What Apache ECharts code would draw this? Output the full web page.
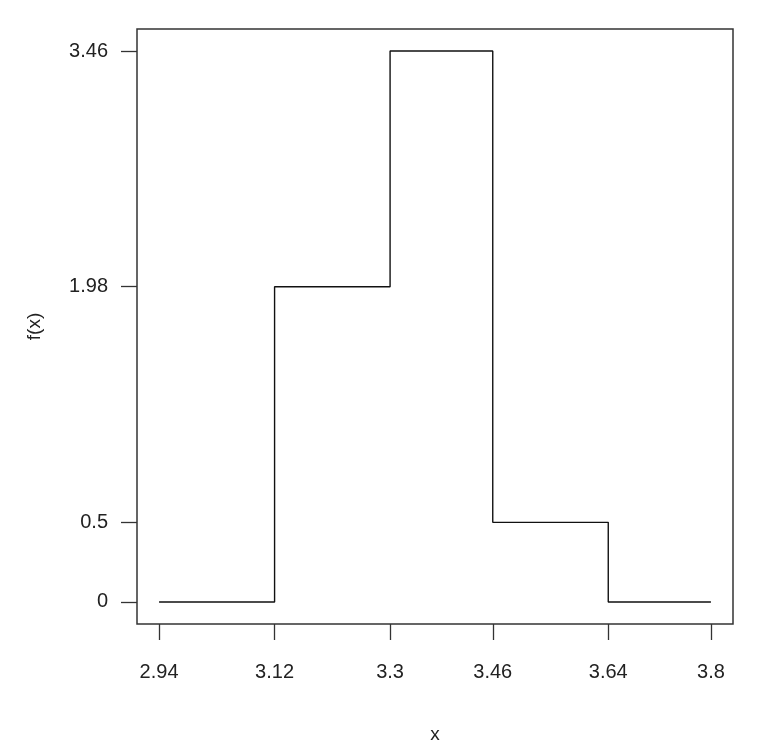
<!DOCTYPE html>
<html>
<head>
<meta charset="utf-8">
<script src="https://cdn.jsdelivr.net/npm/echarts@6/dist/echarts.min.js"></script>
<style>
html,body{margin:0;padding:0;background:#fff;}
#chart{width:762px;height:750px;}
</style>
</head>
<body>
<div id="chart"></div>
<script>
// Data
const xBreaks = [2.94, 3.12, 3.3, 3.46, 3.64, 3.8];
const fValues = [0, 1.98, 3.46, 0.5, 0, 0];
const xTickValues = [2.94, 3.12, 3.3, 3.46, 3.64, 3.8];
const yTickValues = [0, 0.5, 1.98, 3.46];
const xTitle = 'x';
const yTitle = 'f(x)';

const xMin = 2.94, xMax = 3.8, yMin = 0, yMax = 3.46;
const xPad = (xMax - xMin) * 0.04, yPad = (yMax - yMin) * 0.04;

const font = 'Liberation Sans, Arial, sans-serif';
const fmt = v => String(Math.round(v * 100) / 100);

const chart = echarts.init(document.getElementById('chart'), null, {renderer: 'canvas'});
chart.setOption({
  backgroundColor: '#ffffff',
  animation: false,
  grid: {
    left: 137, right: 29, top: 29, bottom: 126,
    show: true, borderColor: '#333', borderWidth: 1.5, backgroundColor: 'transparent'
  },
  xAxis: {
    type: 'value',
    min: xMin - xPad, max: xMax + xPad,
    name: xTitle, nameLocation: 'middle', nameGap: 111,
    nameTextStyle: {fontFamily: font, fontSize: 19, color: '#222', verticalAlign: 'middle'},
    axisLine: {show: false, onZero: false},
    splitLine: {show: false},
    axisTick: {show: true, inside: false, length: 16, customValues: xTickValues, lineStyle: {color: '#333', width: 1.3}},
    axisLabel: {customValues: xTickValues, margin: 38, fontFamily: font, fontSize: 20, color: '#222', formatter: fmt}
  },
  yAxis: {
    type: 'value',
    min: yMin - yPad, max: yMax + yPad,
    name: yTitle, nameLocation: 'middle', nameGap: 102, nameRotate: 90,
    nameTextStyle: {fontFamily: font, fontSize: 19, color: '#222', verticalAlign: 'middle', align: 'center'},
    axisLine: {show: false, onZero: false},
    splitLine: {show: false},
    axisTick: {show: true, inside: false, length: 16, customValues: yTickValues, lineStyle: {color: '#333', width: 1.3}},
    axisLabel: {customValues: yTickValues, margin: 29, fontFamily: font, fontSize: 20, color: '#222', formatter: fmt}
  },
  series: [{
    type: 'line',
    step: 'end',
    data: xBreaks.map((x, i) => [x, fValues[i]]),
    showSymbol: false,
    symbol: 'none',
    lineStyle: {color: '#111', width: 1.4},
    silent: true
  }]
});
</script>
</body>
</html>
